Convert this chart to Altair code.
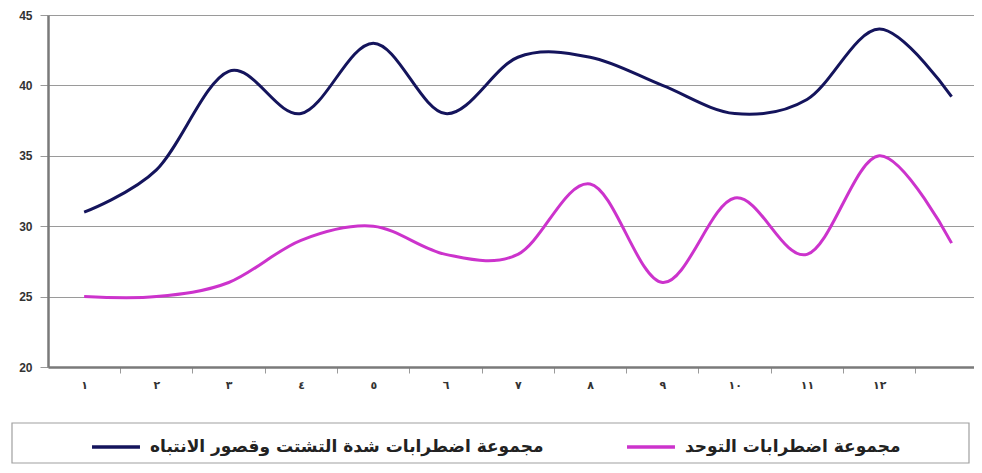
import altair as alt
import pandas as pd

# ---- data ----
x_labels = ["١", "٢", "٣", "٤", "٥", "٦", "٧", "٨", "٩", "١٠", "١١", "١٢"]
x_index = list(range(1, 14))
adhd_values = [31, 34, 41, 38, 43, 38, 42, 42, 40, 38, 39, 44, 39.2]
autism_values = [25, 25, 26, 29, 30, 28, 28, 33, 26, 32, 28, 35, 28.8]
series_names = [
    "مجموعة اضطرابات شدة التشتت وقصور الانتباه",
    "مجموعة اضطرابات التوحد",
]
series_colors = ["#14145c", "#cc33cc"]
y_ticks = [20, 25, 30, 35, 40, 45]

rows = []
for i, a, b in zip(x_index, adhd_values, autism_values):
    rows.append({"idx": i, "value": a, "series": series_names[0]})
    rows.append({"idx": i, "value": b, "series": series_names[1]})
df = pd.DataFrame(rows)

label_expr = "[" + ",".join("'%s'" % s for s in x_labels) + "][datum.value - 1]"

W, H = 926, 352

lines = alt.Chart(df).mark_line(interpolate="cardinal", strokeWidth=3).encode(
    x=alt.X(
        "idx:Q",
        scale=alt.Scale(domain=[0.5, 13.31], nice=False, zero=False),
        axis=alt.Axis(
            values=list(range(1, 13)),
            labelExpr=label_expr,
            tickOffset=36,
            labelOffset=-36,
            grid=False,
            title=None,
            domainColor="#7a7a7a",
            domainWidth=2.5,
            tickColor="#9a9a9a",
            tickSize=6,
            tickWidth=1,
            labelFont="DejaVu Sans",
            labelFontSize=11,
            labelFontWeight="bold",
            labelColor="#333333",
            labelPadding=6,
        ),
    ),
    y=alt.Y(
        "value:Q",
        scale=alt.Scale(domain=[20, 45], nice=False, zero=False),
        axis=alt.Axis(
            values=y_ticks,
            title=None,
            grid=True,
            gridColor="#9a9a9a",
            gridWidth=1.2,
            domainColor="#7a7a7a",
            domainWidth=2.5,
            tickColor="#9a9a9a",
            tickSize=8,
            labelFont="Liberation Sans",
            labelFontSize=12,
            labelFontWeight="bold",
            labelColor="#333333",
            labelPadding=8,
        ),
    ),
    color=alt.Color(
        "series:N",
        scale=alt.Scale(domain=series_names, range=series_colors),
        legend=alt.Legend(
            orient="none",
            legendX=42,
            legendY=406,
            direction="horizontal",
            title=None,
            symbolType="stroke",
            symbolStrokeWidth=3.5,
            symbolSize=2300,
            labelFont="DejaVu Sans",
            labelFontSize=17,
            labelFontWeight="bold",
            labelColor="#222222",
            labelOffset=8,
            labelLimit=600,
            columnPadding=76,
            padding=0,
        ),
    ),
)

frame = alt.Chart(pd.DataFrame({"k": [0]})).mark_rect(
    fill="white", fillOpacity=0, stroke="#a0a0a0", strokeWidth=1.2
).encode(
    x=alt.value(-36), x2=alt.value(921), y=alt.value(408), y2=alt.value(448)
)

chart = alt.layer(frame, lines).properties(
    width=W,
    height=H,
    autosize=alt.AutoSizeParams(type="none"),
    padding={"left": 40, "top": 7, "right": 0, "bottom": 98},
).configure_view(stroke=None).configure(background="white")

chart.save("out.html", embed_options={"renderer": "svg", "actions": False})
